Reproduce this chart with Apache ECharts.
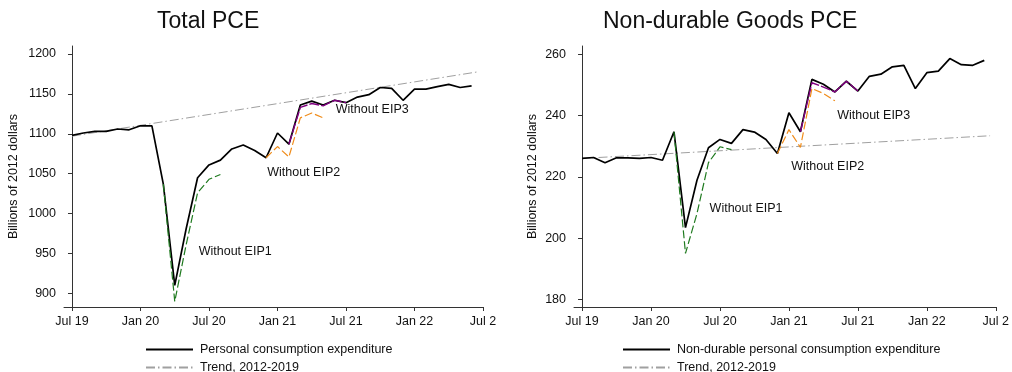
<!DOCTYPE html>
<html><head><meta charset="utf-8">
<script src="https://cdn.jsdelivr.net/npm/echarts@6/dist/echarts.min.js"></script>
<style>html,body{margin:0;padding:0;background:#fff}#c{width:1012px;height:372px}</style>
</head><body><div id="c"></div>
<script>
// Months indexed from Jul 2019 (0) to Jun 2022 (35)
const tickValues = [0, 6, 12, 18, 24, 30, 36];
const tickLabels = ['Jul 19', 'Jan 20', 'Jul 20', 'Jan 21', 'Jul 21', 'Jan 22', 'Jul 2'];

// Total PCE (billions of 2012 dollars), Jul 2019 .. Jun 2022
const totalPCE = [1098,1101,1103,1103,1106,1105,1110,1110,1037,910,981,1045,1061,1067,1081,1086,1079,1070,1101,1087,1136,1141,1136,1142,1139,1146,1149,1158,1157,1142,1156,1156,1159,1162,1158,1160];
const totalEIP1Start = 8;  const totalEIP1 = [1037,890,961,1026,1043,1049];
const totalEIP2Start = 17; const totalEIP2 = [1070,1084,1071,1120,1126,1120];
const totalEIP3Start = 19; const totalEIP3 = [1087,1133,1138,1135,1142,1139];
const totalTrend = [[0,1097],[35.5,1177.5]];

// Non-durable goods PCE
const nondurPCE = [226.0,226.3,224.6,226.2,226.2,226.0,226.3,225.4,234.7,203.4,218.9,229.5,232.2,230.9,235.4,234.6,232.2,227.6,240.9,234.7,251.8,250.2,247.7,251.2,248.0,252.8,253.5,255.9,256.4,248.8,254.0,254.5,258.6,256.6,256.4,258.0];
const nondurEIP1Start = 8;  const nondurEIP1 = [234.7,195.0,208.0,224.6,229.8,228.9];
const nondurEIP2Start = 17; const nondurEIP2 = [227.6,235.4,229.6,248.8,247.2,244.8];
const nondurEIP3Start = 19; const nondurEIP3 = [234.7,250.7,249.3,247.7,251.2,248.0];
const nondurTrend = [[0,226.0],[35.5,233.4]];

const totalYTicks = [900, 950, 1000, 1050, 1100, 1150, 1200];
const nondurYTicks = [180, 200, 220, 240, 260];

const totalNotes = [['Without EIP1', 11.1, 952], ['Without EIP2', 17.1, 1051], ['Without EIP3', 23.1, 1130]];
const nondurNotes = [['Without EIP1', 11.1, 209.8], ['Without EIP2', 18.2, 223.2], ['Without EIP3', 22.2, 239.9]];

const pairs = (start, arr) => arr.map((v, i) => [start + i, v]);
const FONT = "'Liberation Sans', Arial, sans-serif";
const TXT = '#111';
const AX = '#333';

function xAxis(idx) {
  return {
    type: 'value', gridIndex: idx, min: -0.7, max: 36,
    axisLine: { show: true, onZero: false, lineStyle: { color: AX, width: 1 } },
    axisTick: { show: true, length: 4, customValues: tickValues, lineStyle: { color: AX } },
    axisLabel: { customValues: tickValues, margin: 8, color: TXT, fontSize: 12.5, fontFamily: FONT,
      formatter: v => tickLabels[tickValues.indexOf(v)] },
    splitLine: { show: false }
  };
}
function yAxis(idx, min, max, ticks, gap) {
  return {
    type: 'value', gridIndex: idx, min, max,
    name: 'Billions of 2012 dollars', nameLocation: 'middle', nameGap: gap,
    nameTextStyle: { color: TXT, fontSize: 12.5, fontFamily: FONT },
    axisLine: { show: true, lineStyle: { color: AX, width: 1 } },
    axisTick: { show: true, length: 4, customValues: ticks, lineStyle: { color: AX } },
    axisLabel: { customValues: ticks, margin: 8, color: TXT, fontSize: 12.5, fontFamily: FONT,
      formatter: v => String(v) },
    splitLine: { show: false }
  };
}
function lineS(name, idx, data, color, width, type, z) {
  return { name, type: 'line', xAxisIndex: idx, yAxisIndex: idx, data, symbol: 'none', showSymbol: false, z,
    lineStyle: { color, width, type }, itemStyle: { color }, silent: true, animation: false };
}
function notes(idx, arr) {
  return { type: 'scatter', xAxisIndex: idx, yAxisIndex: idx, symbolSize: 0, silent: true, z: 10,
    itemStyle: { opacity: 1, color: TXT },
    data: arr.map(n => ({ name: n[0], value: [n[1], n[2]] })),
    label: { show: true, position: 'right', distance: 0, formatter: p => p.name, opacity: 1,
      color: TXT, fontSize: 12.5, fontFamily: FONT } };
}
function legendItem(name, left, top) {
  return { orient: 'horizontal', left, top, padding: 0, itemWidth: 47, itemHeight: 12, data: [name],
    itemStyle: { opacity: 0 },
    textStyle: { color: TXT, fontSize: 12.5, fontFamily: FONT, padding: [0, 0, 0, 2] }, selectedMode: false };
}

const chart = echarts.init(document.getElementById('c'), null, { renderer: 'canvas' });
chart.setOption({
  animation: false,
  backgroundColor: '#fff',
  title: [
    { text: 'Total PCE', left: 152, top: 5, textStyle: { fontSize: 23, fontWeight: 'normal', color: TXT, fontFamily: FONT } },
    { text: 'Non-durable Goods PCE', left: 598, top: 5, textStyle: { fontSize: 23, fontWeight: 'normal', color: TXT, fontFamily: FONT } }
  ],
  grid: [
    { left: 64, top: 46, width: 419, height: 261 },
    { left: 574, top: 46, width: 426, height: 261 }
  ],
  xAxis: [xAxis(0), xAxis(1)],
  yAxis: [yAxis(0, 883, 1210, totalYTicks, 44), yAxis(1, 177.5, 262.7, nondurYTicks, 35)],
  legend: [
    legendItem('Personal consumption expenditure', 145, 343),
    legendItem('Trend, 2012-2019', 145, 361),
    legendItem('Non-durable personal consumption expenditure', 622, 343),
    legendItem('Trend, 2012-2019', 622, 361)
  ],
  series: [
    lineS('Trend, 2012-2019', 0, totalTrend, '#a0a0a0', 1, [9, 3, 1.5, 3], 1),
    lineS('Personal consumption expenditure', 0, pairs(0, totalPCE), '#000', 1.7, 'solid', 2),
    lineS('EIP1', 0, pairs(totalEIP1Start, totalEIP1), '#1f7a1f', 1.2, [8, 3], 3),
    lineS('EIP2', 0, pairs(totalEIP2Start, totalEIP2), '#f08c1a', 1.2, [8, 3], 3),
    lineS('EIP3', 0, pairs(totalEIP3Start, totalEIP3), '#800080', 1.4, [10, 2], 3),
    notes(0, totalNotes),
    lineS('Trend, 2012-2019', 1, nondurTrend, '#a0a0a0', 1, [9, 3, 1.5, 3], 1),
    lineS('Non-durable personal consumption expenditure', 1, pairs(0, nondurPCE), '#000', 1.7, 'solid', 2),
    lineS('EIP1', 1, pairs(nondurEIP1Start, nondurEIP1), '#1f7a1f', 1.2, [8, 3], 3),
    lineS('EIP2', 1, pairs(nondurEIP2Start, nondurEIP2), '#f08c1a', 1.2, [8, 3], 3),
    lineS('EIP3', 1, pairs(nondurEIP3Start, nondurEIP3), '#800080', 1.4, [10, 2], 3),
    notes(1, nondurNotes)
  ]
});
</script></body></html>
